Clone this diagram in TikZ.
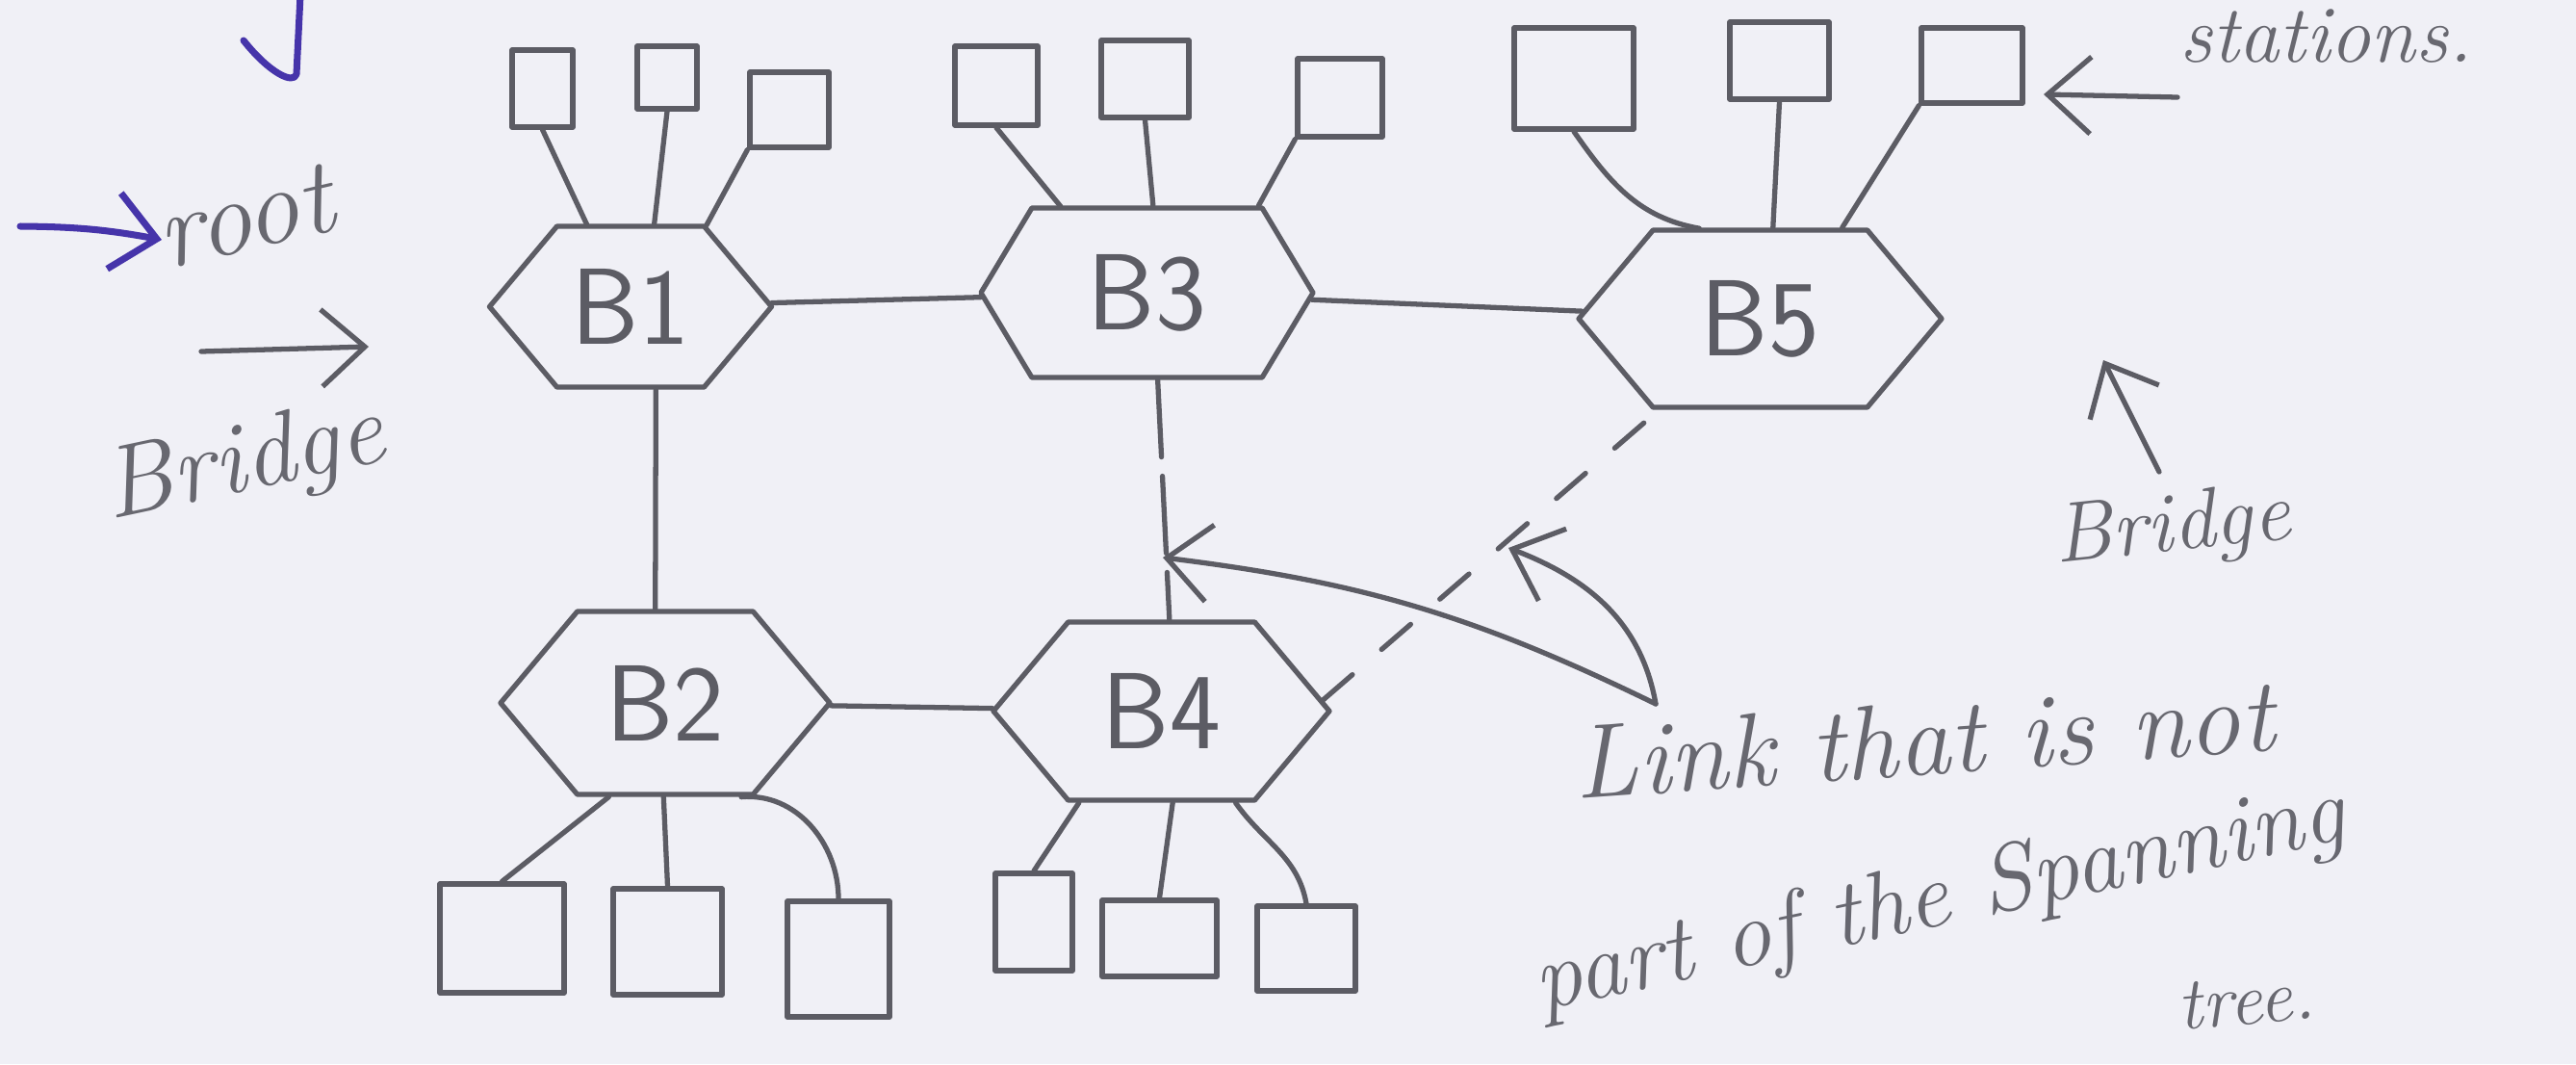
\documentclass[tikz,border=0pt]{standalone}
\usepackage{tikz}
\usetikzlibrary{shapes.symbols,arrows.meta}
\definecolor{paper}{RGB}{240,240,246}
\definecolor{pencil}{RGB}{92,92,100}
\definecolor{lead}{RGB}{104,104,112}
\definecolor{ink}{RGB}{70,52,170}
\tikzstyle{arrow} = [->,>={Straight Barb[length=4.5mm,width=8mm]}]
\tikzstyle{bridge} = [draw,signal,signal to=west and east,signal pointer angle=100,inner sep=0pt,font=\sffamily\fontsize{32}{36}\selectfont]
\tikzstyle{station} = [draw,rectangle,inner sep=0pt]
\tikzstyle{blocked} = [dash pattern=on 4mm off 4mm]
\tikzstyle{gapped} = [dash pattern=on 8mm off 2mm]
\tikzstyle{note} = [lead,inner sep=0pt,font=\itshape\fontsize{30}{34}\selectfont]

\begin{document}
\begin{tikzpicture}[pencil, line width=1.5pt, line cap=round, line join=round]
        \clip (0,0) rectangle (26.76,-11.05);
        \fill[paper] (0,0) rectangle (26.76,-11.05);

        % bridges
        \node[bridge, minimum width=2.93cm, minimum height=1.67cm] at (6.55,-3.185) (b1) {B1};
        \node[bridge, minimum width=3.42cm, minimum height=1.90cm] at (6.91,-7.30) (b2) {B2};
        \node[bridge, minimum width=3.45cm, minimum height=1.76cm, signal pointer angle=118] at (11.915,-3.04) (b3) {B3};
        \node[bridge, minimum width=3.49cm, minimum height=1.85cm] at (12.065,-7.385) (b4) {B4};
        \node[bridge, minimum width=3.77cm, minimum height=1.84cm] at (18.285,-3.31) (b5) {B5};

        % stations on top
        \node[station, minimum width=0.63cm, minimum height=0.80cm] at (5.635,-0.92) (b1a) {};
        \node[station, minimum width=0.62cm, minimum height=0.65cm] at (6.93,-0.805) (b1b) {};
        \node[station, minimum width=0.82cm, minimum height=0.78cm] at (8.20,-1.14) (b1c) {};
        \node[station, minimum width=0.86cm, minimum height=0.82cm] at (10.35,-0.89) (b3a) {};
        \node[station, minimum width=0.91cm, minimum height=0.80cm] at (11.895,-0.82) (b3b) {};
        \node[station, minimum width=0.88cm, minimum height=0.81cm] at (13.92,-1.015) (b3c) {};
        \node[station, minimum width=1.24cm, minimum height=1.05cm] at (16.35,-0.815) (b5a) {};
        \node[station, minimum width=1.03cm, minimum height=0.80cm] at (18.485,-0.63) (b5b) {};
        \node[station, minimum width=1.05cm, minimum height=0.78cm] at (20.485,-0.68) (b5c) {};

        % stations below
        \node[station, minimum width=1.29cm, minimum height=1.13cm] at (5.215,-9.745) (b2a) {};
        \node[station, minimum width=1.13cm, minimum height=1.10cm] at (6.935,-9.78) (b2b) {};
        \node[station, minimum width=1.06cm, minimum height=1.20cm] at (8.71,-9.96) (b2c) {};
        \node[station, minimum width=0.80cm, minimum height=1.01cm] at (10.74,-9.575) (b4a) {};
        \node[station, minimum width=1.19cm, minimum height=0.79cm] at (12.045,-9.745) (b4b) {};
        \node[station, minimum width=1.02cm, minimum height=0.88cm] at (13.57,-9.85) (b4c) {};

        \draw (b1a.south) -- (b1.118);
        \draw (b1b.south) -- (b1.74);
        \draw (b1c.south west) -- (b1.47);
        \draw (b3a.south) -- (b3.135);
        \draw (b3b.south) -- (b3.86);
        \draw (b3c.south west) -- (b3.38);
        \draw (b5a.south) to[out=-55, in=170] (b5.124);
        \draw (b5b.south) -- (b5.82);
        \draw (b5c.south west) -- (b5.48);
        \draw (b2.-121) -- (b2a.north);
        \draw (b2.-91) -- (b2b.north);
        \draw (b2.-51) to[out=5, in=90] (b2c.north);
        \draw (b4.-132) -- (b4a.north);
        \draw (b4.-83) -- (b4b.north);
        \draw (b4.-51) to[out=-55, in=100] (b4c.north);

        % links between bridges
        \draw (b1) -- (b3);
        \draw (b3) -- (b5);
        \draw (b1.-73) -- (b2.96);
        \draw (b2) -- (b4);
        \draw[gapped] (b3.-83) -- (b4.85);
        \draw[blocked] (b4.4) -- (b5.222);

        % notes
        \draw[ink, line width=2pt] (3.12,0.05) -- (3.08,-0.77) .. controls (3.05,-0.88) and (2.80,-0.76) .. (2.53,-0.42);
        \node[note, anchor=base west, rotate=13, font=\itshape\fontsize{32}{36}\selectfont] at (1.70,-2.80) (rootlbl) {root};
        \coordinate (rootin) at (0.21,-2.35);
        \coordinate (roottip) at (1.68,-2.49);
        \draw[arrow, ink, line width=2pt] (rootin) to[bend left=5] (roottip);

        \node[note, anchor=base west, rotate=12] at (1.12,-5.40) (lbridge) {Bridge};
        \coordinate (brin) at (2.09,-3.65);
        \coordinate (brtip) at (3.83,-3.60);
        \draw[arrow] (brin) -- (brtip);

        \node[note, anchor=base west, font=\itshape\fontsize{24}{28}\selectfont] at (22.62,-0.64) (stat) {stations.};
        \coordinate (sttail) at (22.62,-1.01);
        \coordinate (sttip) at (21.23,-0.98);
        \draw[arrow] (sttail) -- (sttip);

        \node[note, anchor=base west, rotate=6, font=\itshape\fontsize{25}{30}\selectfont] at (21.34,-5.85) (rbridge) {Bridge};
        \coordinate (bbtail) at (22.43,-4.90);
        \coordinate (bbtip) at (21.85,-3.74);
        \draw[arrow] (bbtail) -- (bbtip);

        \node[note, anchor=base west, rotate=4, font=\itshape\fontsize{31}{35}\selectfont] at (16.35,-8.30) (lnktxt) {Link that is not};
        \node[note, anchor=base west, rotate=12, font=\itshape\fontsize{28}{32}\selectfont] at (15.98,-10.50) (parttxt) {part of the Spanning};
        \node[note, anchor=base west, rotate=5, font=\itshape\fontsize{22}{26}\selectfont] at (22.62,-10.70) (treetxt) {tree.};
        \coordinate (lnk) at (17.20,-7.31);
        \coordinate (hit34) at (12.08,-5.79);
        \coordinate (hit45) at (15.67,-5.69);
        \draw[arrow] (lnk) to[out=154, in=-7] (hit34);
        \draw[arrow] (lnk) to[out=100, in=-21] (hit45);

    \end{tikzpicture}
\end{document}
